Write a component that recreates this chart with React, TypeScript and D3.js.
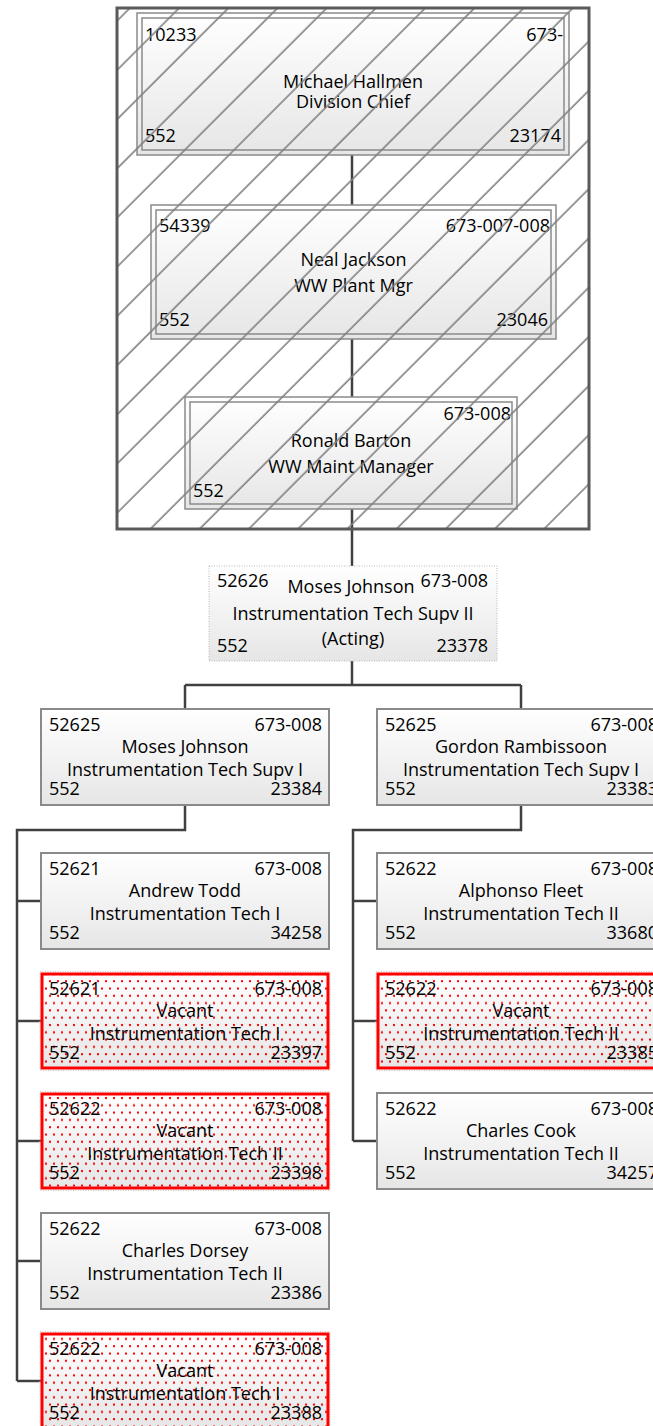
import React from "react";
import * as d3 from "d3";

const W = 653;
const H = 1426;

// ---- Executive chain (inside the hatched frame)
const execPositions = ["10233", "54339", ""];
const execDepts = ["673-", "673-007-008", "673-008"];
const execNames = ["Michael Hallmen", "Neal Jackson", "Ronald Barton"];
const execTitles = ["Division Chief", "WW Plant Mgr", "WW Maint Manager"];
const execGrades = ["552", "552", "552"];
const execIds = ["23174", "23046", ""];

// ---- Acting supervisor
const actingPosition = "52626";
const actingDept = "673-008";
const actingName = "Moses Johnson";
const actingTitleLines = ["Instrumentation Tech Supv II", "(Acting)"];
const actingGrade = "552";
const actingId = "23378";

// ---- Supervisors
const supPositions = ["52625", "52625"];
const supDepts = ["673-008", "673-008"];
const supNames = ["Moses Johnson", "Gordon Rambissoon"];
const supTitles = ["Instrumentation Tech Supv I", "Instrumentation Tech Supv I"];
const supGrades = ["552", "552"];
const supIds = ["23384", "23383"];

// ---- Teams
const leftPositions = ["52621", "52621", "52622", "52622", "52622"];
const leftNames = ["Andrew Todd", "Vacant", "Vacant", "Charles Dorsey", "Vacant"];
const leftTitles = [
  "Instrumentation Tech I",
  "Instrumentation Tech I",
  "Instrumentation Tech II",
  "Instrumentation Tech II",
  "Instrumentation Tech I",
];
const leftIds = ["34258", "23397", "23398", "23386", "23388"];

const rightPositions = ["52622", "52622", "52622"];
const rightNames = ["Alphonso Fleet", "Vacant", "Charles Cook"];
const rightTitles = ["Instrumentation Tech II", "Instrumentation Tech II", "Instrumentation Tech II"];
const rightIds = ["33680", "23385", "34257"];

const teamDept = "673-008";
const teamGrade = "552";

// ---- Layout constants
const FONT = "'Open Sans', Lato, sans-serif";
const FS = 18;
const INK = "#000";
const LINE = "#404040";
const BORDER = "#8a8a8a";

const execLeft = [137, 151, 185];
const execRight = [569, 556, 517];
const execTop = [13, 205, 397];
const execBottom = [155, 339, 509];
const execNameY = [88, 266, 447];
const execTitleY = [108, 292, 473];
const execTopTextY = [41, 232, 420];
const execBotTextY = [142, 326, 497];

const frame = { x0: 117, y0: 8, x1: 589, y1: 529 };
const spineX = 352;

const BOX_W = 288;
const BOX_H = 96;

const supX = d3.scaleLinear().domain([0, 1]).range([185, 521]);
const supTop = 709;
const rowY = d3.scaleLinear().domain([0, 1]).range([853, 973]);
const acting = { x0: 209, x1: 497, y0: 566, y1: 661 };
const branchY = 685;
const teamBranchY = 830;

type BoxProps = {
  cx: number;
  top: number;
  pos: string;
  dept: string;
  name: string;
  title: string;
  grade: string;
  id: string;
};

function PersonBox({ cx, top, pos, dept, name, title, grade, id }: BoxProps) {
  const x0 = cx - BOX_W / 2;
  const x1 = cx + BOX_W / 2;
  const vacant = name === "Vacant";
  return (
    <g>
      {vacant ? (
        <>
          <rect x={x0} y={top} width={BOX_W} height={BOX_H} fill="url(#boxGrad)" />
          <rect x={x0} y={top} width={BOX_W} height={BOX_H} fill="url(#dots)" />
          <rect
            x={x0 - 1}
            y={top - 1.5}
            width={BOX_W + 2}
            height={BOX_H + 3}
            fill="none"
            stroke="#c8c8c8"
            strokeWidth={1}
            strokeDasharray="1 1.5"
          />
          <rect x={x0 + 1} y={top + 1} width={BOX_W - 2} height={BOX_H - 2} fill="none" stroke="#ff0000" strokeWidth={3} />
        </>
      ) : (
        <rect x={x0} y={top} width={BOX_W} height={BOX_H} fill="url(#boxGrad)" stroke={BORDER} strokeWidth={2} />
      )}
      <g fontFamily={FONT} fontSize={FS} fill={INK}>
        <text x={x0 + 8} y={top + 22}>{pos}</text>
        <text x={x1 - 7} y={top + 22} textAnchor="end">{dept}</text>
        <text x={cx} y={top + 44} textAnchor="middle">{name}</text>
        <text x={cx} y={top + 67} textAnchor="middle">{title}</text>
        <text x={x0 + 8} y={top + 86}>{grade}</text>
        <text x={x1 - 7} y={top + 86} textAnchor="end">{id}</text>
      </g>
    </g>
  );
}

export default function App() {
  const teams = [
    { pos: leftPositions, names: leftNames, titles: leftTitles, ids: leftIds },
    { pos: rightPositions, names: rightNames, titles: rightTitles, ids: rightIds },
  ];

  const line = d3.line();

  // connectors
  const connectors: string[] = [];
  execTop.forEach((t, i) => {
    if (i > 0) connectors.push(line([[spineX, execBottom[i - 1]], [spineX, t]])!);
  });
  connectors.push(line([[spineX, execBottom[2]], [spineX, acting.y0]])!);
  connectors.push(line([[spineX, acting.y1], [spineX, branchY]])!);
  connectors.push(line([[supX(0), branchY], [supX(1), branchY]])!);
  supNames.forEach((_, i) => {
    connectors.push(line([[supX(i), branchY], [supX(i), supTop]])!);
    const team = teams[i];
    const sx = supX(i) - BOX_W / 2 - 24;
    const lastMid = rowY(team.names.length - 1) + BOX_H / 2;
    connectors.push(
      line([
        [supX(i), supTop + BOX_H],
        [supX(i), teamBranchY],
        [sx, teamBranchY],
        [sx, lastMid],
      ])!
    );
    team.names.forEach((_, j) => {
      const m = rowY(j) + BOX_H / 2;
      connectors.push(line([[sx, m], [sx + 24, m]])!);
    });
  });

  return (
    <svg
      width={W}
      height={H}
      viewBox={`0 0 ${W} ${H}`}
      style={{ position: "absolute", left: 0, top: 0, background: "#fff" }}
    >
      <defs>
        <linearGradient id="boxGrad" x1="0" y1="0" x2="0" y2="1">
          <stop offset="0" stopColor="#ffffff" />
          <stop offset="1" stopColor="#e6e6e6" />
        </linearGradient>
        <pattern
          id="hatch"
          patternUnits="userSpaceOnUse"
          width={34.8}
          height={20}
          patternTransform="rotate(45)"
        >
          <line x1={28} y1={-5} x2={28} y2={25} stroke="#808080" strokeWidth={1.6} />
        </pattern>
        <pattern id="dots" patternUnits="userSpaceOnUse" width={8} height={14.6}>
          <rect x={1} y={2} width={2} height={2} fill="#ff0000" />
          <rect x={5} y={9.3} width={2} height={2} fill="#ff0000" />
        </pattern>
      </defs>

      {/* frame background */}
      <rect x={frame.x0} y={frame.y0} width={frame.x1 - frame.x0} height={frame.y1 - frame.y0} fill="#fff" />

      {/* connectors */}
      {connectors.map((d, i) => (
        <path key={i} d={d} fill="none" stroke={LINE} strokeWidth={2.5} />
      ))}

      {/* executive boxes */}
      {execNames.map((n, i) => {
        const x0 = execLeft[i];
        const x1 = execRight[i];
        const y0 = execTop[i];
        const y1 = execBottom[i];
        const cx = (x0 + x1) / 2;
        return (
          <g key={n}>
            <rect x={x0} y={y0} width={x1 - x0} height={y1 - y0} fill="url(#boxGrad)" stroke={BORDER} strokeWidth={1.5} />
            <rect x={x0 + 5} y={y0 + 5} width={x1 - x0 - 10} height={y1 - y0 - 10} fill="none" stroke={BORDER} strokeWidth={1.5} />
            <g fontFamily={FONT} fontSize={FS} fill={INK}>
              <text x={x0 + 8} y={execTopTextY[i]}>{execPositions[i]}</text>
              <text x={x1 - 6} y={execTopTextY[i]} textAnchor="end">{execDepts[i]}</text>
              <text x={cx} y={execNameY[i]} textAnchor="middle">{n}</text>
              <text x={cx} y={execTitleY[i]} textAnchor="middle">{execTitles[i]}</text>
              <text x={x0 + 8} y={execBotTextY[i]}>{execGrades[i]}</text>
              <text x={x1 - 8} y={execBotTextY[i]} textAnchor="end">{execIds[i]}</text>
            </g>
          </g>
        );
      })}

      {/* hatch overlay + frame border */}
      <rect x={frame.x0} y={frame.y0} width={frame.x1 - frame.x0} height={frame.y1 - frame.y0} fill="url(#hatch)" />
      <rect
        x={frame.x0}
        y={frame.y0}
        width={frame.x1 - frame.x0}
        height={frame.y1 - frame.y0}
        fill="none"
        stroke="#5a5a5a"
        strokeWidth={3}
      />

      {/* acting supervisor */}
      <g>
        <rect
          x={acting.x0}
          y={acting.y0}
          width={acting.x1 - acting.x0}
          height={acting.y1 - acting.y0}
          fill="url(#boxGrad)"
          stroke="#b8b8b8"
          strokeWidth={1}
          strokeDasharray="1 1.5"
        />
        <g fontFamily={FONT} fontSize={FS} fill={INK}>
          <text x={acting.x0 + 8} y={587}>{actingPosition}</text>
          <text x={(acting.x0 + acting.x1) / 2 - 2} y={593} textAnchor="middle">{actingName}</text>
          <text x={acting.x1 - 9} y={587} textAnchor="end">{actingDept}</text>
          {actingTitleLines.map((t, i) => (
            <text key={t} x={(acting.x0 + acting.x1) / 2} y={620 + i * 25} textAnchor="middle">{t}</text>
          ))}
          <text x={acting.x0 + 8} y={652}>{actingGrade}</text>
          <text x={acting.x1 - 9} y={652} textAnchor="end">{actingId}</text>
        </g>
      </g>

      {/* supervisors */}
      {supNames.map((n, i) => (
        <PersonBox
          key={n}
          cx={supX(i)}
          top={supTop}
          pos={supPositions[i]}
          dept={supDepts[i]}
          name={n}
          title={supTitles[i]}
          grade={supGrades[i]}
          id={supIds[i]}
        />
      ))}

      {/* team members */}
      {teams.map((team, i) =>
        team.names.map((n, j) => (
          <PersonBox
            key={`${i}-${j}`}
            cx={supX(i)}
            top={rowY(j)}
            pos={team.pos[j]}
            dept={teamDept}
            name={n}
            title={team.titles[j]}
            grade={teamGrade}
            id={team.ids[j]}
          />
        ))
      )}
    </svg>
  );
}
